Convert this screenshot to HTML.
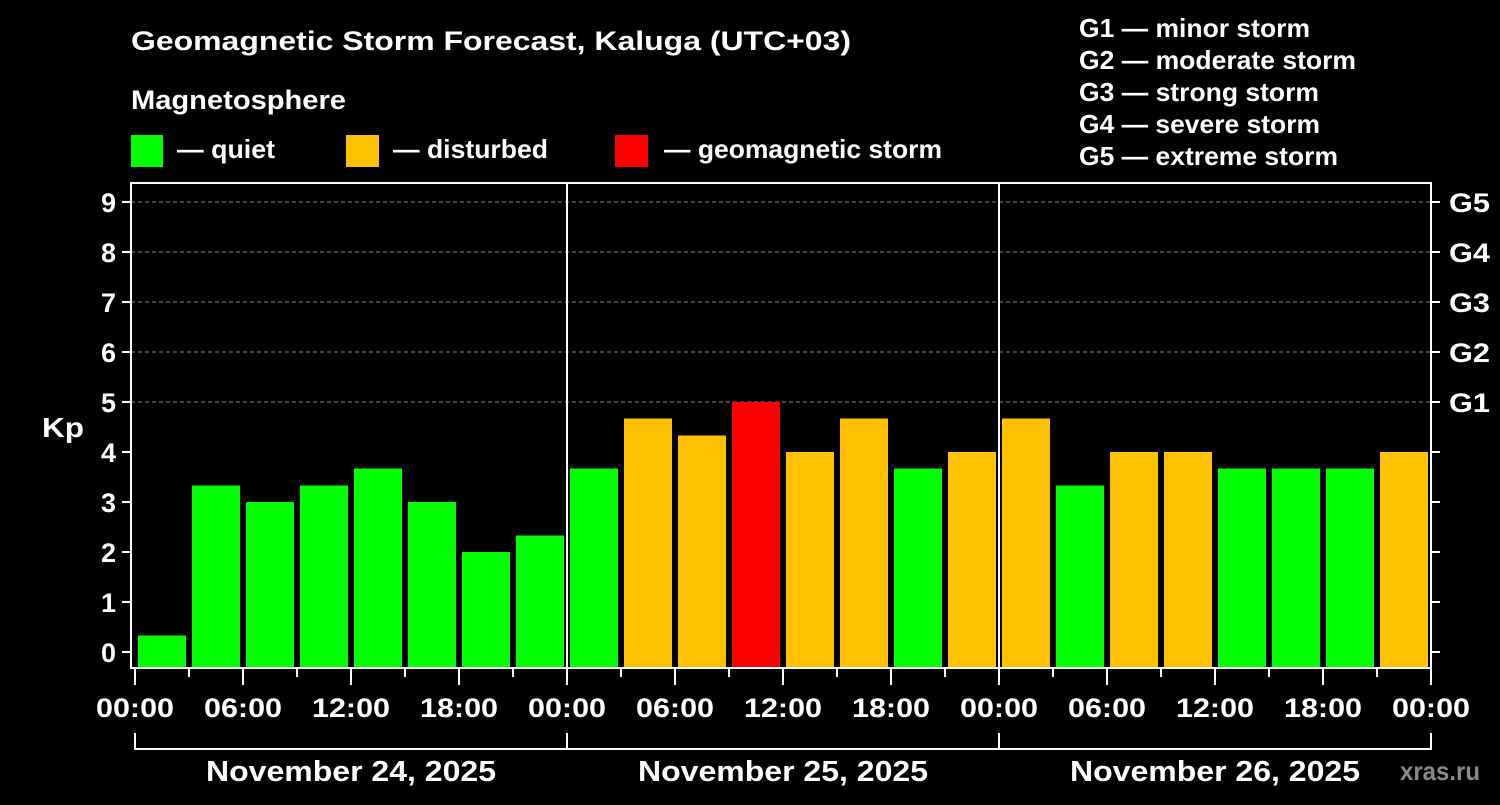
<!DOCTYPE html>
<html><head><meta charset="utf-8"><style>
body{margin:0;background:#000;}
svg text{font-family:"Liberation Sans",Arial,sans-serif;font-weight:bold;fill:#fff;}
</style></head><body>
<svg id="c" width="1500" height="800" xmlns="http://www.w3.org/2000/svg">
<rect width="1500" height="800" fill="#000"/>
<text x="131" y="50" font-size="27" textLength="720" lengthAdjust="spacingAndGlyphs">Geomagnetic Storm Forecast, Kaluga (UTC+03)</text>
<text x="131" y="109" font-size="27" textLength="215" lengthAdjust="spacingAndGlyphs">Magnetosphere</text>
<g><rect x="131" y="135" width="32" height="32" fill="#00ff00"/><text x="177" y="158" font-size="26" textLength="98" lengthAdjust="spacingAndGlyphs">— quiet</text></g>
<g><rect x="346" y="135" width="33" height="32" fill="#ffc000"/><text x="393" y="158" font-size="26" textLength="155" lengthAdjust="spacingAndGlyphs">— disturbed</text></g>
<g><rect x="615" y="135" width="33" height="32" fill="#ff0000"/><text x="664" y="158" font-size="26" textLength="278" lengthAdjust="spacingAndGlyphs">— geomagnetic storm</text></g>
<g font-size="26">
<text x="1079" y="37" textLength="231" lengthAdjust="spacingAndGlyphs">G1 — minor storm</text>
<text x="1079" y="69" textLength="277" lengthAdjust="spacingAndGlyphs">G2 — moderate storm</text>
<text x="1079" y="101" textLength="240" lengthAdjust="spacingAndGlyphs">G3 — strong storm</text>
<text x="1079" y="133" textLength="241" lengthAdjust="spacingAndGlyphs">G4 — severe storm</text>
<text x="1079" y="165" textLength="259" lengthAdjust="spacingAndGlyphs">G5 — extreme storm</text>
</g>
<text x="42" y="437" font-size="28" textLength="42" lengthAdjust="spacingAndGlyphs">Kp</text>
<text x="1400" y="780" font-size="26" textLength="80" lengthAdjust="spacingAndGlyphs" style="fill:#8a8a8a">xras.ru</text>
<g id="grid"></g><g id="bars"></g><g id="axes"></g>
</svg>
<script>
const kpValues=[0.33,3.33,3,3.33,3.67,3,2,2.33,3.67,4.67,4.33,5,4,4.67,3.67,4,4.67,3.33,4,4,3.67,3.67,3.67,4];
const yTicks=[0,1,2,3,4,5,6,7,8,9];
const gLabels=["G1","G2","G3","G4","G5"];
const gLevels=[5,6,7,8,9];
const xTickLabels=["00:00","06:00","12:00","18:00","00:00","06:00","12:00","18:00","00:00","06:00","12:00","18:00","00:00"];
const dayLabels=["November 24, 2025","November 25, 2025","November 26, 2025"];
const NS="http://www.w3.org/2000/svg";
const X0=135,SLOT=54,Y0=652,UNIT=50,TOP=183,BOT=668,RIGHT=1431,LEFT=131;
const xs=i=>X0+SLOT*i, ys=v=>Y0-UNIT*v;
function mk(tag,attrs,parent,txt){const e=document.createElementNS(NS,tag);for(const k in attrs)e.setAttribute(k,attrs[k]);if(txt!==undefined)e.textContent=txt;document.getElementById(parent).appendChild(e);return e;}
gLevels.forEach(v=>{
 const l=mk('line',{x1:LEFT,x2:RIGHT,y1:ys(v),y2:ys(v),stroke:'#888','stroke-dasharray':'4,3','stroke-width':1},'grid');
 
 
});
kpValues.forEach((v,i)=>{
 const col=v>=5?'#ff0000':(v>=4?'#ffc000':'#00ff00');
 const r=mk('rect',{x:xs(i)+3,y:ys(v),width:48,height:BOT-ys(v),fill:col},'bars');
 
 
});
const A='axes';
mk('rect',{x:LEFT,y:TOP,width:RIGHT-LEFT,height:BOT-TOP,fill:'none',stroke:'#fff','stroke-width':2},A);
[1,2].forEach(d=>mk('line',{x1:xs(8*d),x2:xs(8*d),y1:TOP,y2:BOT,stroke:'#fff','stroke-width':2},A));
yTicks.forEach(v=>{
 mk('line',{x1:122,x2:LEFT,y1:ys(v),y2:ys(v),stroke:'#fff','stroke-width':2},A);
 mk('line',{x1:RIGHT,x2:1440,y1:ys(v),y2:ys(v),stroke:'#fff','stroke-width':2},A);
 const t=mk('text',{x:116,y:ys(v)+10,'font-size':27,'text-anchor':'end'},A,String(v));
 
 
});
gLevels.forEach((v,i)=>{
 const t=mk('text',{x:1449,y:ys(v)+10,'font-size':27,textLength:41,lengthAdjust:'spacingAndGlyphs'},A,gLabels[i]);
 
 
});
for(let i=0;i<=24;i++){
 const maj=i%2===0;
 mk('line',{x1:xs(i),x2:xs(i),y1:BOT,y2:maj?685:677,stroke:'#fff','stroke-width':2},A);
}
xTickLabels.forEach((s,i)=>{
 const t=mk('text',{x:xs(i*2)-39,y:717,'font-size':27,textLength:78,lengthAdjust:'spacingAndGlyphs'},A,s);
 
 
});
mk('line',{x1:xs(0),x2:xs(24),y1:749,y2:749,stroke:'#fff','stroke-width':2},A);
for(let d=0;d<=3;d++)mk('line',{x1:xs(8*d),x2:xs(8*d),y1:733,y2:750,stroke:'#fff','stroke-width':2},A);
dayLabels.forEach((s,d)=>{
 const t=mk('text',{x:xs(8*d+4)-145,y:781,'font-size':29,textLength:290,lengthAdjust:'spacingAndGlyphs'},A,s);
 
 
});
</script>
</body></html>
